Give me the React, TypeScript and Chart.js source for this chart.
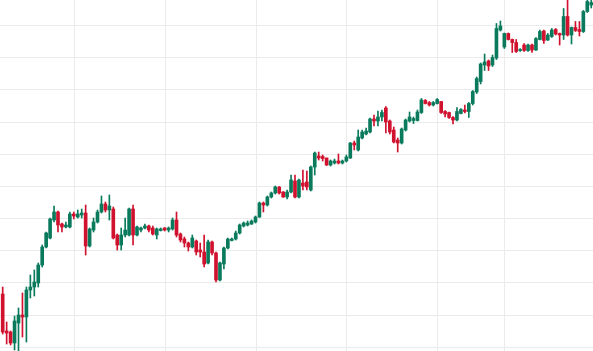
import React, { useEffect, useRef } from "react";
import { Chart, registerables } from "chart.js";

Chart.register(...registerables);

// Candle values (price units)
const opens = [57,20,19,8,28,36,34,61,64,68,86,104,113,131,139,127,124,124,137,134,136,138,105,121,129,139,147,141,142,116,106,116,116,142,116,121,123,125,123,116,120.5,123,121,122,131,117,112,108,104,110,101,99,88,109,98,71,87,103,110.5,112,118,125,126,127,129,134,148,146,154,158,164,159,154,159,170,154,168,169,161,184,195,194.5,193,186,188,190,188,190,193,208,201,213,217,219,232,230,234,243,230,221,211,208,221,230,230.5,230.5,238.5,250.5,248.5,246,247.5,249.5,239.5,238.5,233.5,231,237.5,241,239.5,247.5,259,269.5,286,290,286,293,321,304,317.5,311.5,308.5,300.5,306,300.5,306,301,311.5,320,311,314.5,321.5,317.5,316,334.5,316,323.5,321.5,319.5,339.5,346];
const highs = [64,29,20,35,43,58,64,76,81,88,106,119,133,145,140,128,129,139,139,141,142,146,123,133,141,155,149,156,144,117,123,133,143,146,125,124,127,126,125,123,123,123.5,124,133,139,118,114,109,116,111,108,116,111,110,99,89,104,113,113,120,127,129,130,131,135,149,149,155,159,165,164.5,159.5,161,176,176,172,181,180,185,199,199,196,193,191,192,197,191,196,208.5,210,221,221,223,233,236,240,241,244.5,231,224,213,223,232,239,234,241,252.5,251.5,249.5,249.5,252.5,249.5,240.5,239,234.5,243.5,242.5,246,248.5,260.5,274,288,297,291,296,327.5,330,318,318,312,311.5,302.5,307.5,307,307,313.5,321,321,317.5,322.5,322.5,318,342.5,351,324,329.5,329.5,340.5,353,353];
const lows = [17,7,6,1,0,14,9,53,55,64,84,103,112,129,119,119,123,123,132,133,133,96,104,119,128,138,139,131,112,101,101,114,115,106,115,119,122,119,116,112,120,120,119,121,114,109,104,100,103,96,94,84,87,96,69,70,82,102,110,111,117,124,125,126.5,128,133.5,139,145,153,157,157,153.5,152,158,153,153,161,161,160,176,191,190,185.5,185,187,187,187,189,192.5,201,200,212,216,218,225,225,230,218,217,208,199,207,220,229,227.5,230,237.5,247,245,245,247,237.5,234,232.5,227,230,237,238,233.5,246,257.5,267,280.5,280.5,284.5,291.5,320,302.5,311,298.5,298.5,299.5,299.5,299.5,298.5,300.5,311,307.5,310.5,313.5,316,306,311.5,315,307,319.5,315,318.5,338.5,343];
const closes = [19,18,8,30,36,34,61,64,69,86,104,118,132,139,126,124,126,137,135,137,138,105,122,129,139,147,141,145,113,106,116,121,142,116,124,123,125,121,117,122,122,121,123,131,116,111,108,104,113,99,99,87,109,98,71,88,103,112,112,118,126,128,128,130,134,148,146,154,158,164,158,154,159,171,154,171,165,164,184,198,193,192.5,186,190,190,188,190,194,208,206,214,219,220,232,230,234,238.5,229,219,209,208,222,231,234,232.5,239,251,247.5,246,248.5,251.5,238.5,237,233.5,231,239.5,241.5,239.5,247.5,259.5,272.5,287,289,285,293.5,322.5,325,317.5,311.5,308.5,299.5,301.5,300.5,306,301,312.5,319.5,310.5,316,321,317,316,334.5,316,323.5,320.5,319.5,339.5,349.5,348.5];

// Grid positions (candle index for vertical lines, price for horizontal lines)
const verticalGridAt = [18, 41, 64, 87, 110, 127];
const horizontalGridAt = [4.3, 36.5, 68.6, 100.8, 133, 165.1, 197.3, 229.5, 261.6, 293.8, 326];

const UP = "#0a7a5d";
const DOWN = "#d0122f";
const GRID = "#ebebeb";

export default function App() {
  const ref = useRef<HTMLCanvasElement | null>(null);

  useEffect(() => {
    if (!ref.current) return;
    const n = opens.length;
    const wickData = opens.map((_, i) => ({ x: i, y: [lows[i], highs[i]] }));
    const bodyData = opens.map((o, i) => ({ x: i, y: [Math.min(o, closes[i]), Math.max(o, closes[i])] }));
    const colors = opens.map((o, i) => (closes[i] >= o ? UP : DOWN));

    const gridPlugin = {
      id: "gridLines",
      beforeDatasetsDraw(chart: any) {
        const { ctx, chartArea, scales } = chart;
        ctx.save();
        ctx.strokeStyle = GRID;
        ctx.lineWidth = 1;
        ctx.beginPath();
        for (const v of verticalGridAt) {
          const px = Math.round(scales.x.getPixelForValue(v)) + 0.5;
          ctx.moveTo(px, chartArea.top);
          ctx.lineTo(px, chartArea.bottom);
        }
        for (const v of horizontalGridAt) {
          const py = Math.round(scales.y.getPixelForValue(v)) + 0.5;
          ctx.moveTo(chartArea.left, py);
          ctx.lineTo(chartArea.right, py);
        }
        ctx.stroke();
        ctx.restore();
      },
    };

    const chart = new Chart(ref.current, {
      type: "bar",
      data: {
        datasets: [
          {
            data: wickData as any,
            backgroundColor: colors,
            barThickness: 1,
            grouped: false,
            borderWidth: 0,
            order: 2,
          } as any,
          {
            data: bodyData as any,
            backgroundColor: colors,
            barThickness: 3,
            grouped: false,
            borderWidth: 0,
            minBarLength: 1,
            order: 1,
          } as any,
        ],
      },
      options: {
        responsive: false,
        animation: false,
        devicePixelRatio: 1,
        layout: { padding: 0 },
        plugins: { legend: { display: false }, tooltip: { enabled: false } },
        scales: {
          x: { type: "linear", display: false, min: -0.684, max: -0.684 + 593 / 3.95, offset: false },
          y: { type: "linear", display: false, min: 0, max: 351 },
        },
      },
      plugins: [gridPlugin],
    });
    return () => chart.destroy();
  }, []);

  return (
    <canvas
      ref={ref}
      width={593}
      height={351}
      style={{ position: "fixed", left: 0, top: 0, width: 593, height: 351, display: "block" }}
    />
  );
}
